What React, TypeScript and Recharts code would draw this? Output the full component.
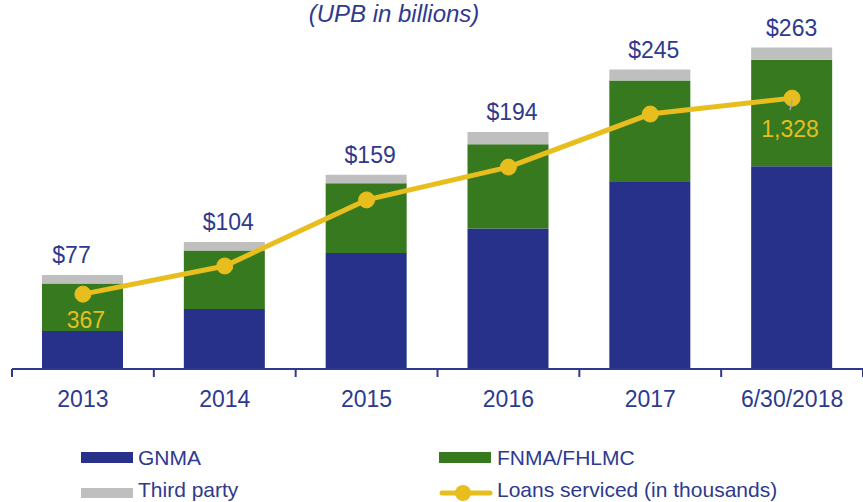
import { ComposedChart, Bar, Line, XAxis, YAxis, LabelList } from "recharts";

const years = ["2013", "2014", "2015", "2016", "2017", "6/30/2018"];
const gnma = [31, 49, 95, 115, 153, 166];
const fnmaFhlmc = [39, 48, 57, 69, 83, 87];
const thirdParty = [7, 7, 7, 10, 9, 10];
const totals = [77, 104, 159, 194, 245, 263];
const loansServiced = [367, 505, 829, 990, 1250, 1328];

const W = 863;
const H = 502;
const M = { top: 30, right: 0, bottom: 82, left: 12 };
const BAND = (W - M.left - M.right) / years.length;

const BLUE = "#283189";
const GREEN = "#36791f";
const GRAY = "#bfbfbf";
const YELLOW = "#e8be1e";
const TEXT = "#2e3a8e";
const FONT = '"Liberation Sans", Arial, sans-serif';

const data = years.map((year, i) => ({
  year,
  gnma: gnma[i],
  fnma: fnmaFhlmc[i],
  third: thirdParty[i],
  total: totals[i],
  loans: loansServiced[i],
}));

function AxisTick(props: any) {
  const { x, y, payload, index } = props;
  const half = BAND / 2;
  const last = index === years.length - 1;
  return (
    <g>
      <line x1={x - half} x2={x - half} y1={y - 8} y2={y} stroke={TEXT} strokeWidth={2} />
      {last && <line x1={x + half} x2={x + half} y1={y - 8} y2={y} stroke={TEXT} strokeWidth={2} />}
      <text x={x} y={y + 30} textAnchor="middle" fill={TEXT} fontSize={23} fontFamily={FONT}>
        {payload.value}
      </text>
    </g>
  );
}

function TotalLabel(props: any) {
  const { x, y, width, index, value } = props;
  // the first label sits a little left of its bar in the original
  const dx = index === 0 ? -11 : index === 5 ? 0 : 4;
  return (
    <text x={x + width / 2 + dx} y={y - 12} textAnchor="middle" fill={TEXT} fontSize={23} fontFamily={FONT}>
      {`$${value}`}
    </text>
  );
}

function LoansLabel(props: any) {
  const { x, y, index, value } = props;
  if (index === 0) {
    return (
      <text x={x + 3} y={y + 34} textAnchor="middle" fill={YELLOW} fontSize={23} fontFamily={FONT}>
        {value.toLocaleString("en-US")}
      </text>
    );
  }
  if (index === years.length - 1) {
    return (
      <g>
        <line x1={x} y1={y + 2} x2={x - 2} y2={y + 12} stroke="#a6a6a6" strokeWidth={1.5} />
        <text x={x - 2} y={y + 39} textAnchor="middle" fill={YELLOW} fontSize={23} fontFamily={FONT}>
          {value.toLocaleString("en-US")}
        </text>
      </g>
    );
  }
  return null;
}

export default function App() {
  return (
    <div style={{ position: "absolute", left: 0, top: 0, width: W, height: H, fontFamily: FONT }}>
      <ComposedChart width={W} height={H} data={data} margin={M}>
        <XAxis
          dataKey="year"
          interval={0}
          tickLine={false}
          tickSize={8}
          tickMargin={0}
          height={51}
          axisLine={{ stroke: TEXT, strokeWidth: 2 }}
          tick={<AxisTick />}
        />
        <YAxis yAxisId="left" hide domain={[0, 277.4]} />
        <YAxis yAxisId="right" hide orientation="right" domain={[0, 1662]} />
        <Bar yAxisId="left" dataKey="gnma" stackId="upb" fill={BLUE} barSize={81} isAnimationActive={false} />
        <Bar yAxisId="left" dataKey="fnma" stackId="upb" fill={GREEN} barSize={81} isAnimationActive={false} />
        <Bar yAxisId="left" dataKey="third" stackId="upb" fill={GRAY} barSize={81} isAnimationActive={false}>
          <LabelList dataKey="total" content={<TotalLabel />} />
        </Bar>
        <Line
          yAxisId="right"
          dataKey="loans"
          stroke={YELLOW}
          strokeWidth={5}
          dot={{ r: 8, fill: YELLOW, stroke: YELLOW, strokeWidth: 1 }}
          isAnimationActive={false}
        >
          <LabelList dataKey="loans" content={<LoansLabel />} />
        </Line>
      </ComposedChart>
      <svg
        width={W}
        height={H}
        style={{ position: "absolute", left: 0, top: 0, pointerEvents: "none" }}
      >
        <text x={394} y={22} textAnchor="middle" fill={TEXT} fontSize={24} fontStyle="italic" fontFamily={FONT}>
          (UPB in billions)
        </text>
        <g fontSize={21} fontFamily={FONT} fill={TEXT}>
          <rect x={81} y={452} width={52} height={11} fill={BLUE} />
          <text x={138} y={465}>GNMA</text>
          <rect x={439} y={452} width={52} height={11} fill={GREEN} />
          <text x={497} y={465}>FNMA/FHLMC</text>
          <rect x={81} y={488} width={52} height={10} fill={GRAY} />
          <text x={138} y={497}>Third party</text>
          <line x1={442} x2={490} y1={493} y2={493} stroke={YELLOW} strokeWidth={5} strokeLinecap="round" />
          <circle cx={463} cy={493} r={8} fill={YELLOW} />
          <text x={497} y={497}>Loans serviced (in thousands)</text>
        </g>
      </svg>
    </div>
  );
}
